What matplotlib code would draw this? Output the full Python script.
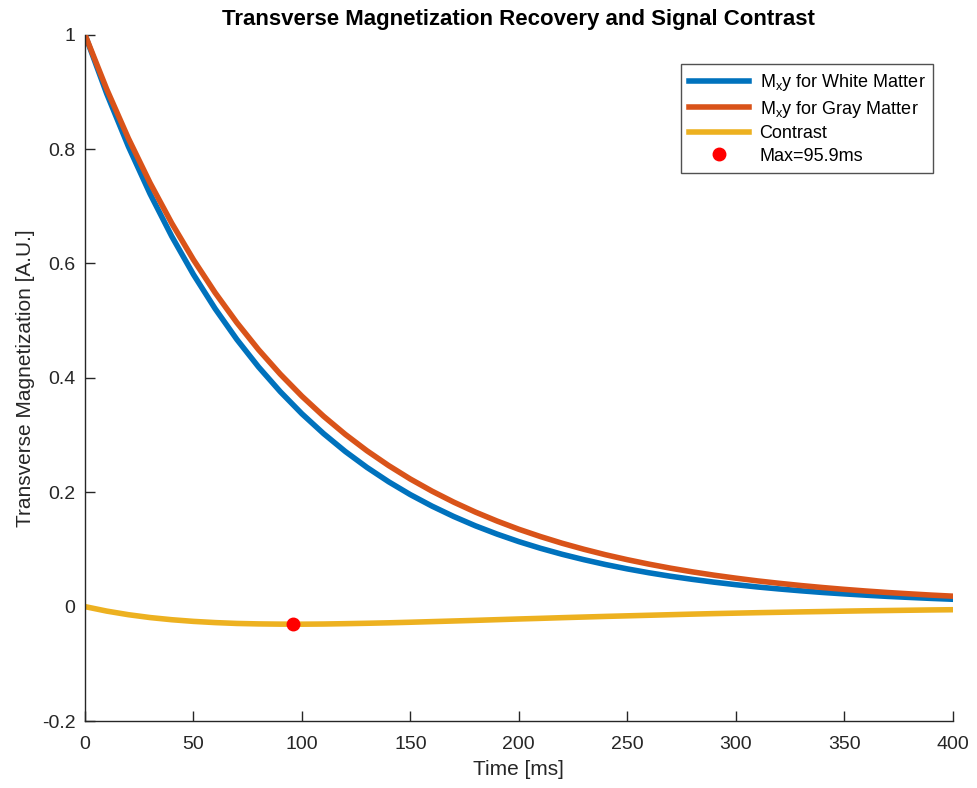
import matplotlib
matplotlib.use("Agg")
import matplotlib.pyplot as plt

# time axis [ms]
time_ms = [0, 10, 20, 30, 40, 50, 60, 70, 80, 90, 100, 110, 120, 130, 140,
           150, 160, 170, 180, 190, 200, 210, 220, 230, 240, 250, 260, 270,
           280, 290, 300, 310, 320, 330, 340, 350, 360, 370, 380, 390, 400]

# transverse magnetization, white matter
mxy_white = [1.0, 0.8970, 0.8046, 0.7217, 0.6474, 0.5807, 0.5209, 0.4672,
             0.4191, 0.3760, 0.3372, 0.3025, 0.2713, 0.2434, 0.2183, 0.1958,
             0.1757, 0.1576, 0.1413, 0.1268, 0.1137, 0.1020, 0.0915, 0.0821,
             0.0736, 0.0660, 0.0592, 0.0531, 0.0477, 0.0428, 0.0384, 0.0344,
             0.0309, 0.0277, 0.0248, 0.0223, 0.0200, 0.0179, 0.0161, 0.0144,
             0.0129]

# transverse magnetization, gray matter
mxy_gray = [1.0, 0.9048, 0.8187, 0.7408, 0.6703, 0.6065, 0.5488, 0.4966,
            0.4493, 0.4066, 0.3679, 0.3329, 0.3012, 0.2725, 0.2466, 0.2231,
            0.2019, 0.1827, 0.1653, 0.1496, 0.1353, 0.1225, 0.1108, 0.1003,
            0.0907, 0.0821, 0.0743, 0.0672, 0.0608, 0.0550, 0.0498, 0.0450,
            0.0408, 0.0369, 0.0334, 0.0302, 0.0273, 0.0247, 0.0224, 0.0202,
            0.0183]

# contrast (white - gray)
contrast = [0.0, -0.0078, -0.0141, -0.0191, -0.0229, -0.0258, -0.0279,
            -0.0294, -0.0302, -0.0306, -0.0307, -0.0304, -0.0298, -0.0291,
            -0.0283, -0.0273, -0.0262, -0.0251, -0.0240, -0.0228, -0.0216,
            -0.0205, -0.0193, -0.0182, -0.0171, -0.0161, -0.0151, -0.0141,
            -0.0131, -0.0122, -0.0114, -0.0106, -0.0099, -0.0092, -0.0086,
            -0.0079, -0.0073, -0.0068, -0.0063, -0.0058, -0.0054]

max_time = 95.9
max_value = -0.0307

plt.rcParams['font.family'] = ['Liberation Sans', 'DejaVu Sans']
plt.rcParams['mathtext.fontset'] = 'custom'
plt.rcParams['mathtext.rm'] = 'Liberation Sans'

fig = plt.figure(figsize=(9.77, 7.88), dpi=100)
ax = fig.add_axes([0.087, 0.085, 0.888, 0.871])

ax.plot(time_ms, mxy_white, color='#0072BD', linewidth=4,
        label=r'M$_{\mathregular{x}}$y for White Matter')
ax.plot(time_ms, mxy_gray, color='#D95319', linewidth=4,
        label=r'M$_{\mathregular{x}}$y for Gray Matter')
ax.plot(time_ms, contrast, color='#EDB120', linewidth=4, label='Contrast')
ax.plot([max_time], [max_value], 'o', color='red', markersize=9,
        linestyle='none', label='Max=95.9ms')

ax.set_xlim(0, 400)
ax.set_ylim(-0.2, 1.0)
ax.set_xticks([0, 50, 100, 150, 200, 250, 300, 350, 400])
ax.set_yticks([-0.2, 0, 0.2, 0.4, 0.6, 0.8, 1])
ax.set_yticklabels(['-0.2', '0', '0.2', '0.4', '0.6', '0.8', '1'])

for side in ['top', 'right']:
    ax.spines[side].set_visible(False)
for side in ['left', 'bottom']:
    ax.spines[side].set_color('#262626')
    ax.spines[side].set_linewidth(1.0)
ax.tick_params(direction='in', length=7, width=1.0, colors='#262626',
               labelsize=14, labelcolor='#262626')
ax.tick_params(axis='x', pad=11)
ax.tick_params(axis='y', pad=7)

ax.set_xlabel('Time [ms]', fontsize=15, color='#262626', labelpad=5)
ax.set_ylabel('Transverse Magnetization [A.U.]', fontsize=15, color='#262626',
              labelpad=5)
ax.set_title('Transverse Magnetization Recovery and Signal Contrast',
             fontsize=16, fontweight='bold', pad=7)

leg = ax.legend(loc='upper right', bbox_to_anchor=(0.978, 0.957), fontsize=13,
                frameon=True, fancybox=False, edgecolor='#262626',
                handlelength=3.3, borderpad=0.45, labelspacing=0.3,
                handletextpad=0.6, borderaxespad=0)
leg.get_frame().set_linewidth(1.0)

fig.savefig('out.png', dpi=100, facecolor='white')
